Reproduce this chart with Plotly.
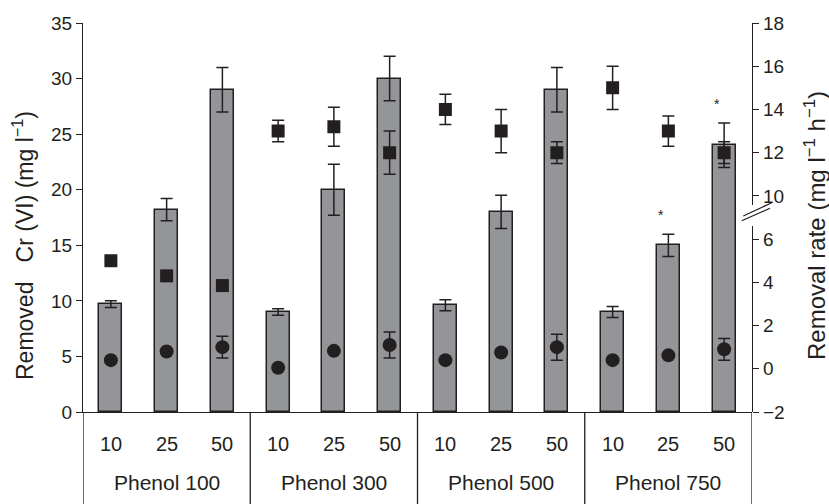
import plotly.graph_objects as go

# ---------------- data ----------------
phenol_groups = ["Phenol 100", "Phenol 300", "Phenol 500", "Phenol 750"]
cr_levels = ["10", "25", "50"]

removed_cr = [9.7, 18.2, 29.0, 9.0, 20.0, 30.0, 9.6, 18.0, 29.0, 9.0, 15.0, 24.0]
removed_cr_err = [0.3, 1.0, 2.0, 0.3, 2.3, 2.0, 0.5, 1.5, 2.0, 0.5, 1.0, 2.0]

rate_circle = [0.4, 0.8, 1.0, 0.05, 0.83, 1.1, 0.4, 0.75, 1.0, 0.4, 0.62, 0.9]
rate_circle_err = [0, 0, 0.5, 0, 0, 0.6, 0, 0, 0.6, 0, 0, 0.5]

rate_square = [5.0, 4.3, 3.85, 13.0, 13.2, 12.0, 14.0, 13.0, 12.0, 15.0, 13.0, 12.0]
rate_square_err = [0, 0, 0, 0.5, 0.9, 1.0, 0.7, 1.0, 0.5, 1.0, 0.7, 0.5]

significant = [False] * 10 + [True, True]

# right-axis break
lower_range = [-2, 6.6]
upper_range = [9.57, 18]

# ---------------- figure ----------------
INK = "#231f20"
BAR = "#939598"
FONT = "Liberation Sans, Arial, sans-serif"
NB = "\u00a0"

n = len(removed_cr)
xs = list(range(n))

fig = go.Figure()

fig.add_trace(go.Bar(
    x=xs, y=removed_cr, width=0.41,
    marker=dict(color=BAR, line=dict(color=INK, width=1.5)),
    error_y=dict(type="data", array=removed_cr_err, visible=True,
                 color=INK, thickness=1.5, width=6),
    yaxis="y", showlegend=False,
))

fig.add_trace(go.Scatter(
    x=xs, y=rate_circle, mode="markers",
    marker=dict(symbol="circle", size=14, color=INK),
    error_y=dict(type="data", array=rate_circle_err, visible=True,
                 color=INK, thickness=1.5, width=6),
    yaxis="y2", showlegend=False,
))

low_sq = [v if v < 8 else None for v in rate_square]
low_err = [e if v < 8 else 0 for v, e in zip(rate_square, rate_square_err)]
up_sq = [v if v >= 8 else None for v in rate_square]
up_err = [e if v >= 8 else 0 for v, e in zip(rate_square, rate_square_err)]

fig.add_trace(go.Scatter(
    x=xs, y=low_sq, mode="markers",
    marker=dict(symbol="square", size=13, color=INK),
    error_y=dict(type="data", array=low_err, visible=True,
                 color=INK, thickness=1.5, width=6),
    yaxis="y2", showlegend=False,
))
fig.add_trace(go.Scatter(
    x=xs, y=up_sq, mode="markers",
    marker=dict(symbol="square", size=13, color=INK),
    error_y=dict(type="data", array=up_err, visible=True,
                 color=INK, thickness=1.5, width=6),
    yaxis="y3", showlegend=False,
))

# ---------------- layout ----------------
W, H = 829, 504
ml, mr, mt, mb = 83, 77, 23, 92
pw = W - ml - mr
ph = H - mt - mb

def px_to_paper_x(px):
    return (px - ml) / pw

def px_to_paper_y(py):
    return (H - mb - py) / ph

lower_top = (lower_range[1] - lower_range[0]) / 18.0
upper_bottom = 1 - (upper_range[1] - upper_range[0]) / 18.0

axis_common = dict(
    showline=True, linecolor=INK, linewidth=1.3, ticks="outside",
    ticklen=6, tickwidth=1.3, tickcolor=INK, showgrid=False, zeroline=False,
    tickfont=dict(family=FONT, size=19, color=INK),
)

fig.update_layout(
    width=W, height=H,
    margin=dict(l=ml, r=mr, t=mt, b=mb, pad=0),
    paper_bgcolor="white", plot_bgcolor="rgba(0,0,0,0)",
    font=dict(family=FONT, color=INK),
    bargap=0,
    xaxis=dict(range=[-0.5, n - 0.5], showticklabels=False, ticks="",
               showline=True, linecolor=INK, linewidth=1.3,
               showgrid=False, zeroline=False, domain=[0, 1]),
    yaxis=dict(range=[0, 35], dtick=5, domain=[0, 1], **axis_common),
    yaxis2=dict(range=lower_range, domain=[0, lower_top], anchor="x",
                side="right", tickvals=[-2, 0, 2, 4, 6],
                ticktext=["\u22122", "0", "2", "4", "6"], **axis_common),
    yaxis3=dict(range=upper_range, domain=[upper_bottom, 1], anchor="x",
                side="right", tickvals=[10, 12, 14, 16, 18],
                ticktext=["10", "12", "14", "16", "18"], **axis_common),
)

annotations = []
# category labels
for i in xs:
    annotations.append(dict(
        x=i, xref="x", y=px_to_paper_y(444), yref="paper",
        text=cr_levels[i % 3], showarrow=False, yanchor="middle",
        font=dict(family=FONT, size=20, color=INK)))
for g, name in enumerate(phenol_groups):
    annotations.append(dict(
        x=3 * g + 1, xref="x", y=px_to_paper_y(483), yref="paper",
        text=name, showarrow=False, yanchor="middle",
        font=dict(family=FONT, size=21, color=INK)))
# significance stars
for i, s in enumerate(significant):
    if s:
        annotations.append(dict(
            x=i, xref="x", y=removed_cr[i] + removed_cr_err[i] + 1.7, yref="y",
            text="*", showarrow=False, xshift=-7, yanchor="middle",
            font=dict(family=FONT, size=14, color=INK)))
# axis titles
left_title = ("Removed" + NB * 3 + "Cr" + NB + "(VI)" + NB + "(mg" + NB +
              "l<sup>\u22121</sup>)")
right_title = ("Removal" + NB + "rate" + NB + "(mg" + NB + "l<sup>\u22121</sup>" +
               NB + "h<sup>\u22121</sup>)")
annotations.append(dict(
    x=px_to_paper_x(23), xref="paper", y=px_to_paper_y(246), yref="paper",
    text=left_title, textangle=-90,
    showarrow=False, xanchor="center", yanchor="middle",
    font=dict(family=FONT, size=23, color=INK)))
annotations.append(dict(
    x=px_to_paper_x(815), xref="paper", y=px_to_paper_y(226), yref="paper",
    text=right_title, textangle=-90,
    showarrow=False, xanchor="center", yanchor="middle",
    font=dict(family=FONT, size=24, color=INK)))
fig.update_layout(annotations=annotations)

shapes = []
# group dividers below the axis
for g in range(len(phenol_groups) + 1):
    shapes.append(dict(type="line", xref="x", yref="paper",
                       x0=3 * g - 0.5, x1=3 * g - 0.5,
                       y0=0, y1=px_to_paper_y(506),
                       line=dict(color=INK, width=1.3)))
# axis break marks
for (x0, y0, x1, y1) in [(743.3, 216, 771.7, 202.7), (741.7, 220.7, 770, 208.3)]:
    shapes.append(dict(type="line", xref="paper", yref="paper",
                       x0=px_to_paper_x(x0), y0=px_to_paper_y(y0),
                       x1=px_to_paper_x(x1), y1=px_to_paper_y(y1),
                       line=dict(color=INK, width=1.2)))
fig.update_layout(shapes=shapes)

fig.write_html("out.html")
